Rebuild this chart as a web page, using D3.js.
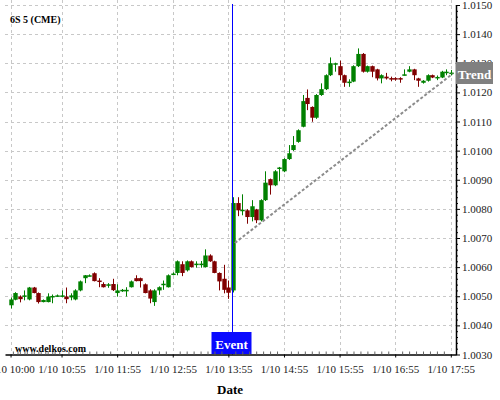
<!DOCTYPE html>
<html><head><meta charset="utf-8">
<script src="https://cdn.jsdelivr.net/npm/d3@7"></script>
<style>body{margin:0;background:#fff}svg{display:block}</style>
</head><body><svg id="c" width="500" height="400"></svg>
<script>
const times = ["10:00","10:05","10:10","10:15","10:20","10:25","10:30","10:35","10:40","10:45","10:50","10:55",
"11:00","11:05","11:10","11:15","11:20","11:25","11:30","11:35","11:40","11:45","11:50","11:55",
"12:00","12:05","12:10","12:15","12:20","12:25","12:30","12:35","12:40","12:45","12:50","12:55",
"13:00","13:05","13:10","13:15","13:20","13:25","13:30","13:35","13:40","13:45","13:50","13:55",
"14:00","14:05","14:10","14:15","14:20","14:25","14:30","14:35","14:40","14:45","14:50","14:55",
"15:00","15:05","15:10","15:15","15:20","15:25","15:30","15:35","15:40","15:45","15:50","15:55",
"16:00","16:05","16:10","16:15","16:20","16:25","16:30","16:35","16:40","16:45","16:50","16:55",
"17:00","17:05","17:10","17:15","17:20","17:25","17:30","17:35","17:40","17:45","17:50","17:55"];
const opens = [1.00469,1.00488,1.00499,1.00501,1.00489,1.00530,1.00511,1.00480,1.00480,1.00499,1.00501,1.00501,
1.00499,1.00496,1.00489,1.00520,1.00562,1.00570,1.00579,1.00554,1.00542,1.00540,1.00542,1.00511,
1.00521,1.00521,1.00531,1.00562,1.00562,1.00541,1.00520,1.00480,1.00520,1.00542,1.00531,1.00577,
1.00580,1.00610,1.00589,1.00620,1.00611,1.00611,1.00600,1.00640,1.00620,1.00580,1.00560,1.00530,
1.00520,1.00820,1.00795,1.00795,1.00772,1.00798,1.00761,1.00830,1.00902,1.00881,1.00941,1.00929,
1.00971,1.01002,1.01030,1.01082,1.01181,1.01150,1.01113,1.01191,1.01211,1.01259,1.01299,1.01290,
1.01259,1.01236,1.01237,1.01290,1.01332,1.01271,1.01290,1.01279,1.01248,1.01254,1.01249,1.01249,
1.01249,1.01261,1.01271,1.01279,1.01248,1.01233,1.01240,1.01259,1.01252,1.01251,1.01270,1.01267];
const highs = [1.00496,1.00514,1.00503,1.00520,1.00532,1.00532,1.00513,1.00489,1.00510,1.00506,1.00506,1.00520,
1.00530,1.00510,1.00524,1.00554,1.00573,1.00575,1.00582,1.00562,1.00548,1.00545,1.00560,1.00541,
1.00525,1.00531,1.00554,1.00572,1.00564,1.00544,1.00524,1.00524,1.00534,1.00554,1.00575,1.00582,
1.00623,1.00620,1.00623,1.00623,1.00620,1.00621,1.00661,1.00644,1.00622,1.00582,1.00608,1.00554,
1.00840,1.00840,1.00850,1.00799,1.00830,1.00800,1.00833,1.00929,1.00904,1.00933,1.00944,1.00974,
1.01019,1.01050,1.01073,1.01191,1.01210,1.01152,1.01194,1.01231,1.01262,1.01320,1.01302,1.01309,
1.01261,1.01245,1.01293,1.01351,1.01335,1.01292,1.01292,1.01281,1.01262,1.01267,1.01254,1.01252,
1.01252,1.01279,1.01290,1.01281,1.01250,1.01242,1.01262,1.01261,1.01258,1.01274,1.01279,1.01277];
const lows = [1.00458,1.00486,1.00479,1.00486,1.00486,1.00510,1.00475,1.00479,1.00479,1.00476,1.00498,1.00496,
1.00476,1.00486,1.00486,1.00517,1.00545,1.00568,1.00551,1.00531,1.00530,1.00529,1.00518,1.00499,
1.00515,1.00499,1.00530,1.00551,1.00530,1.00510,1.00476,1.00467,1.00505,1.00522,1.00530,1.00572,
1.00572,1.00569,1.00585,1.00599,1.00598,1.00598,1.00599,1.00618,1.00579,1.00520,1.00510,1.00491,
1.00513,1.00775,1.00778,1.00749,1.00757,1.00751,1.00757,1.00827,1.00849,1.00878,1.00895,1.00926,
1.00968,1.00999,1.01027,1.01080,1.01139,1.01099,1.01109,1.01188,1.01208,1.01256,1.01271,1.01242,
1.01219,1.01219,1.01235,1.01287,1.01268,1.01268,1.01252,1.01241,1.01231,1.01244,1.01238,1.01240,
1.01233,1.01258,1.01269,1.01242,1.01219,1.01230,1.01237,1.01249,1.01242,1.01249,1.01259,1.01258];
const closes = [1.00489,1.00511,1.00490,1.00503,1.00530,1.00511,1.00480,1.00487,1.00499,1.00501,1.00503,1.00503,
1.00490,1.00503,1.00520,1.00551,1.00572,1.00572,1.00552,1.00549,1.00531,1.00541,1.00521,1.00520,
1.00522,1.00522,1.00551,1.00552,1.00552,1.00511,1.00492,1.00520,1.00531,1.00543,1.00572,1.00578,
1.00620,1.00580,1.00620,1.00600,1.00612,1.00612,1.00640,1.00620,1.00580,1.00551,1.00522,1.00512,
1.00820,1.00795,1.00797,1.00772,1.00809,1.00761,1.00830,1.00890,1.00881,1.00929,1.00942,1.00971,
1.00991,1.01019,1.01070,1.01170,1.01160,1.01113,1.01191,1.01211,1.01259,1.01300,1.01300,1.01259,
1.01233,1.01237,1.01290,1.01332,1.01271,1.01290,1.01271,1.01248,1.01259,1.01248,1.01248,1.01248,
1.01248,1.01262,1.01279,1.01259,1.01240,1.01240,1.01259,1.01251,1.01253,1.01271,1.01271,1.01268];
const yTicks = [1.0030,1.0040,1.0050,1.0060,1.0070,1.0080,1.0090,1.0100,1.0110,1.0120,1.0130,1.0140,1.0150];
const xTickLabels = ["10:00","10:55","11:55","12:55","13:55","14:55","15:55","16:55","17:55"];
const datePrefix = "1/10 ";
const eventTime = "14:00";
const trendTimes = ["14:02","17:57"];
const trendPrices = [1.00683, 1.01264];
const title = "6S 5 (CME)";
const watermark = "www.delkos.com";

const toMin = s => { const [h, m] = s.split(":").map(Number); return h * 60 + m; };
const svg = d3.select("#c");
const L = 5, R = 456, T = 5, B = 354.5;
const x = d3.scaleLinear().domain([594, 1080.6]).range([L, R]);
const y = d3.scaleLinear().domain([1.0030, 1.0150]).range([B, T]);
const serif = "'Liberation Serif','Times New Roman',serif";

// grid
const grid = svg.append("g").attr("stroke", "#c8c8c8").attr("stroke-dasharray", "3,3").attr("stroke-width", 1);
grid.selectAll("line.h").data(yTicks.slice(1)).join("line")
  .attr("x1", L).attr("x2", R).attr("y1", d => Math.round(y(d)) + 0.5).attr("y2", d => Math.round(y(d)) + 0.5);
grid.selectAll("line.v").data(xTickLabels).join("line")
  .attr("x1", d => Math.round(x(toMin(d))) + 0.5).attr("x2", d => Math.round(x(toMin(d))) + 0.5)
  .attr("y1", 0).attr("y2", B);

// candles
const data = times.map((t, i) => ({ t: toMin(t), o: opens[i], h: highs[i], l: lows[i], c: closes[i] }));
const cw = 4.4;
const cg = svg.append("g");
const col = d => d.c >= d.o ? "#008000" : "#800000";
cg.selectAll("line").data(data).join("line")
  .attr("x1", d => Math.round(x(d.t)) + 0.5).attr("x2", d => Math.round(x(d.t)) + 0.5)
  .attr("y1", d => y(d.h)).attr("y2", d => y(d.l))
  .attr("stroke", col).attr("stroke-width", 1);
cg.selectAll("rect").data(data).join("rect")
  .attr("x", d => Math.round(x(d.t)) + 0.5 - cw / 2).attr("width", cw)
  .attr("y", d => Math.min(y(d.o), y(d.c)))
  .attr("height", d => Math.max(1.5, Math.abs(y(d.o) - y(d.c))))
  .attr("fill", col);

// trend line
svg.append("line")
  .attr("x1", x(toMin(trendTimes[0]))).attr("y1", y(trendPrices[0]))
  .attr("x2", x(toMin(trendTimes[1]))).attr("y2", y(trendPrices[1]))
  .attr("stroke", "#8c8c8c").attr("stroke-width", 2).attr("stroke-dasharray", "3,2");

// event line
const ex = Math.round(x(toMin(eventTime))) - 0.5;
svg.append("line").attr("x1", ex).attr("x2", ex).attr("y1", 4).attr("y2", B)
  .attr("stroke", "#0000ff").attr("stroke-width", 1);
svg.append("rect").attr("x", ex - 21).attr("y", 332).attr("width", 40).attr("height", 22).attr("fill", "#0a0aff");
svg.append("text").attr("x", ex - 1).attr("y", 349).attr("text-anchor", "middle")
  .attr("font-family", serif).attr("font-weight", "bold").attr("font-size", 13).attr("fill", "#fff").text("Event");

// right axis
const yAxis = d3.axisRight(y).tickValues(yTicks).tickFormat(d3.format(".4f")).tickSize(4).tickSizeOuter(0);
const ga = svg.append("g").attr("transform", `translate(${R},0)`).call(yAxis);
ga.select(".domain").attr("stroke", "#000").attr("stroke-width", 1.5);
ga.selectAll("text").attr("font-family", serif).attr("font-size", 11).attr("fill", "#222").attr("dx", -1);
const minorY = [];
yTicks.slice(0, -1).forEach(v => { for (let k = 1; k < 5; k++) minorY.push(v + k * 0.0002); });
svg.append("g").attr("transform", `translate(${R},0)`)
  .call(d3.axisRight(y).tickValues(minorY).tickFormat("").tickSize(2).tickSizeOuter(0))
  .call(g => g.select(".domain").remove());

// bottom axis
const xAxis = d3.axisBottom(x).tickValues(xTickLabels.map(toMin))
  .tickFormat((d, i) => datePrefix + xTickLabels[i]).tickSize(3).tickSizeOuter(0);
const gx = svg.append("g").attr("transform", `translate(0,${B})`).call(xAxis);
gx.select(".domain").attr("stroke", "#000").attr("stroke-width", 1.5);
gx.selectAll("text").attr("font-family", serif).attr("font-size", 11).attr("fill", "#222").attr("dy", "1.1em");
const minorX = [];
xTickLabels.forEach(s => { const m = toMin(s); for (let k = -7; k <= 7; k++) if (k !== 0) { const v = m + k * 7.5; if (v > 596 && v < 1079) minorX.push(v); } });
svg.append("g").attr("transform", `translate(0,${B})`)
  .call(d3.axisBottom(x).tickValues(Array.from(new Set(minorX))).tickFormat("").tickSize(-3).tickSizeOuter(0))
  .call(g => g.select(".domain").remove())
  .selectAll("line").attr("stroke", "#666");

// trend label
svg.append("rect").attr("x", R).attr("y", 62).attr("width", 37).attr("height", 22).attr("fill", "#808080");
svg.append("text").attr("x", R + 18.5).attr("y", 79).attr("text-anchor", "middle")
  .attr("font-family", serif).attr("font-weight", "bold").attr("font-size", 13).attr("fill", "#fff").text("Trend");

// texts
svg.append("text").attr("x", 10).attr("y", 23).attr("font-family", serif).attr("font-weight", "bold")
  .attr("font-size", 10).attr("fill", "#000").text(title);
svg.append("text").attr("x", 15).attr("y", 352).attr("font-family", serif).attr("font-weight", "bold")
  .attr("font-size", 10).attr("fill", "#000").text(watermark);
svg.append("text").attr("x", 230).attr("y", 394).attr("text-anchor", "middle").attr("font-family", serif)
  .attr("font-weight", "bold").attr("font-size", 13).attr("fill", "#000").text("Date");
</script></body></html>
